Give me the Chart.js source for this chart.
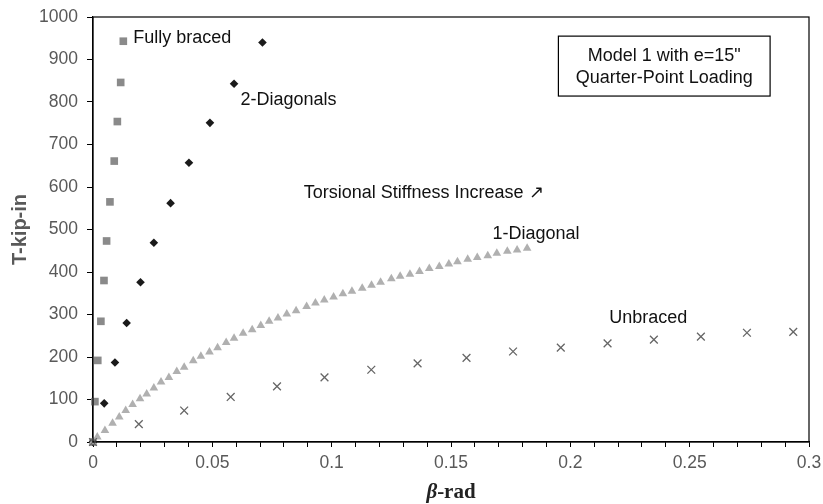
<!DOCTYPE html>
<html lang="en">
<head>
  <meta charset="UTF-8" />
  <title>Torsional Stiffness</title>
  <script src="https://cdn.jsdelivr.net/npm/chart.js"></script>
  <style>
    body { margin: 0; background: #fff; }
    #wrap { width: 823px; height: 504px; }
  </style>
</head>
<body>
  <div id="wrap"><canvas id="chart" width="823" height="504"></canvas></div>

  <script>
    // data (beta in rad, T in kip-in)
    const fullyBeta = [0, 0.0008, 0.002, 0.0033, 0.0046, 0.0057, 0.0071, 0.0089, 0.0102, 0.0116, 0.0127];
    const fullyT    = [0, 95, 192, 284, 380, 473, 565, 661, 754, 846, 943];

    const twoDiagBeta = [0, 0.0047, 0.0092, 0.0141, 0.0199, 0.0255, 0.0325, 0.0402, 0.049, 0.0591, 0.071];
    const twoDiagT    = [0, 91, 187, 280, 376, 469, 562, 657, 751, 843, 940];

    const oneDiagBeta = [0, 0.0018, 0.005, 0.0082, 0.011, 0.0137, 0.0166, 0.0197, 0.0225, 0.0255,
      0.0285, 0.0318, 0.0351, 0.0382, 0.042, 0.0452, 0.0488, 0.0522, 0.0558, 0.0591,
      0.0629, 0.0667, 0.0703, 0.0738, 0.0775, 0.0812, 0.0851, 0.0895, 0.0932, 0.0969,
      0.1008, 0.1047, 0.1085, 0.1128, 0.1167, 0.1205, 0.125, 0.1287, 0.1328, 0.1368,
      0.1409, 0.1451, 0.1491, 0.1527, 0.157, 0.161, 0.1654, 0.1692, 0.1736, 0.1777, 0.1819];
    const oneDiagT = [0, 12, 27, 44, 59, 74, 88, 102, 113, 127,
      141, 152, 166, 176, 191, 202, 212, 222, 234, 244,
      256, 264, 274, 284, 292, 301, 309, 319, 327, 334,
      341, 349, 355, 362, 369, 376, 384, 390, 395, 401,
      408, 413, 419, 424, 430, 434, 438, 444, 449, 452, 456];

    const unbracedBeta = [0, 0.0192, 0.0382, 0.0577, 0.0771, 0.097, 0.1166, 0.136, 0.1565, 0.176,
      0.196, 0.2156, 0.235, 0.2547, 0.274, 0.2934];
    const unbracedT = [0, 42, 74, 106, 131, 152, 170, 185, 198, 213, 222, 232, 241, 248, 257, 259];

    const xTickValues = [0, 0.05, 0.1, 0.15, 0.2, 0.25, 0.3];

    // text labels placed in data space
    const curveLabels = [
      { text: 'Fully braced', beta: 0.0169, t: 940 },
      { text: '2-Diagonals', beta: 0.0618, t: 794 },
      { text: 'Torsional Stiffness Increase \u2197', beta: 0.0883, t: 573 },
      { text: '1-Diagonal', beta: 0.1674, t: 477 },
      { text: 'Unbraced', beta: 0.2163, t: 281 }
    ];
    const boxLines = ['Model 1 with e=15"', 'Quarter-Point Loading'];

    const pts = (xs, ys) => xs.map((x, i) => ({ x: x, y: ys[i] }));

    const FONT = '"Liberation Sans", Arial, sans-serif';

    const decorPlugin = {
      id: 'decor',
      afterDraw(chart) {
        const { ctx, chartArea: a, scales: { x, y } } = chart;
        ctx.save();
        // frame
        ctx.strokeStyle = '#000';
        ctx.lineWidth = 1.2;
        ctx.strokeRect(a.left, a.top, a.right - a.left, a.bottom - a.top);

        // curve labels
        ctx.fillStyle = '#111';
        ctx.font = '18px ' + FONT;
        ctx.textBaseline = 'alphabetic';
        ctx.textAlign = 'left';
        curveLabels.forEach(l => {
          ctx.fillText(l.text, x.getPixelForValue(l.beta), y.getPixelForValue(l.t));
        });

        // info box
        const bl = x.getPixelForValue(0.195), br = x.getPixelForValue(0.2837);
        const bt = y.getPixelForValue(955), bb = y.getPixelForValue(814);
        ctx.fillStyle = '#fff';
        ctx.fillRect(bl, bt, br - bl, bb - bt);
        ctx.lineWidth = 1.2;
        ctx.strokeRect(bl, bt, br - bl, bb - bt);
        ctx.fillStyle = '#111';
        ctx.textAlign = 'center';
        const cx = (bl + br) / 2;
        ctx.fillText(boxLines[0], cx, y.getPixelForValue(897));
        ctx.fillText(boxLines[1], cx, y.getPixelForValue(844));

        // y title
        ctx.save();
        ctx.translate(20, (a.top + a.bottom) / 2);
        ctx.rotate(-Math.PI / 2);
        ctx.font = 'bold 20px ' + FONT;
        ctx.fillStyle = '#595959';
        ctx.textBaseline = 'middle';
        ctx.fillText('T-kip-in', 0, 0);
        ctx.restore();

        // x title: italic beta + "-rad", bold serif
        const serif = '"Liberation Serif", "Times New Roman", serif';
        const f1 = 'italic bold 21px ' + serif, f2 = 'bold 21px ' + serif;
        ctx.font = f1; const w1 = ctx.measureText('\u03b2').width;
        ctx.font = f2; const w2 = ctx.measureText('-rad').width;
        const sx = (a.left + a.right) / 2 - (w1 + w2) / 2;
        ctx.fillStyle = '#222';
        ctx.textAlign = 'left';
        ctx.textBaseline = 'alphabetic';
        ctx.font = f1; ctx.fillText('\u03b2', sx, 498);
        ctx.font = f2; ctx.fillText('-rad', sx + w1, 498);
        ctx.restore();
      }
    };

    const ctx = document.getElementById('chart').getContext('2d');
    new Chart(ctx, {
      type: 'scatter',
      data: {
        datasets: [
          {
            label: 'Unbraced',
            data: pts(unbracedBeta, unbracedT),
            pointStyle: 'crossRot',
            pointRadius: 5.5,
            borderColor: '#666',
            borderWidth: 1.3,
            clip: false
          },
          {
            label: '1-Diagonal',
            data: pts(oneDiagBeta, oneDiagT),
            pointStyle: 'triangle',
            pointRadius: 5,
            backgroundColor: '#b0b0b0',
            borderColor: '#b0b0b0',
            borderWidth: 0,
            clip: false
          },
          {
            label: '2-Diagonals',
            data: pts(twoDiagBeta, twoDiagT),
            pointStyle: 'rectRot',
            pointRadius: 4.3,
            backgroundColor: '#1a1a1a',
            borderColor: '#1a1a1a',
            borderWidth: 0,
            clip: false
          },
          {
            label: 'Fully braced',
            data: pts(fullyBeta, fullyT),
            pointStyle: 'rect',
            pointRadius: 5.4,
            backgroundColor: '#8a8a8a',
            borderColor: '#8a8a8a',
            borderWidth: 0,
            clip: false
          }
        ]
      },
      options: {
        responsive: false,
        animation: false,
        events: [],
        layout: { padding: { top: 17, right: 14, left: 0, bottom: 0 } },
        plugins: { legend: { display: false }, tooltip: { enabled: false } },
        scales: {
          x: {
            type: 'linear',
            min: 0,
            max: 0.3,
            afterFit(scale) { scale.height = 62; scale.paddingLeft = 0; scale.paddingRight = 0; },
            ticks: {
              stepSize: 0.01,
              autoSkip: false,
              maxRotation: 0,
              padding: 6,
              color: '#595959',
              font: { family: FONT, size: 17.5 },
              callback(v) {
                const hit = xTickValues.find(t => Math.abs(t - v) < 1e-6);
                return hit === undefined ? '' : String(hit);
              }
            },
            grid: { drawOnChartArea: false, drawTicks: true, tickLength: 5, color: '#000', lineWidth: 1 },
            border: { display: true, color: '#000', width: 1.2 }
          },
          y: {
            min: 0,
            max: 1000,
            afterFit(scale) { scale.width = 93; scale.paddingTop = 0; scale.paddingBottom = 0; },
            ticks: {
              stepSize: 100,
              padding: 9,
              color: '#595959',
              font: { family: FONT, size: 17.5 },
              callback: v => String(v)
            },
            grid: { drawOnChartArea: false, drawTicks: true, tickLength: 6, color: '#000', lineWidth: 1 },
            border: { display: true, color: '#000', width: 1.2 }
          }
        }
      },
      plugins: [decorPlugin]
    });
  </script>
</body>
</html>
